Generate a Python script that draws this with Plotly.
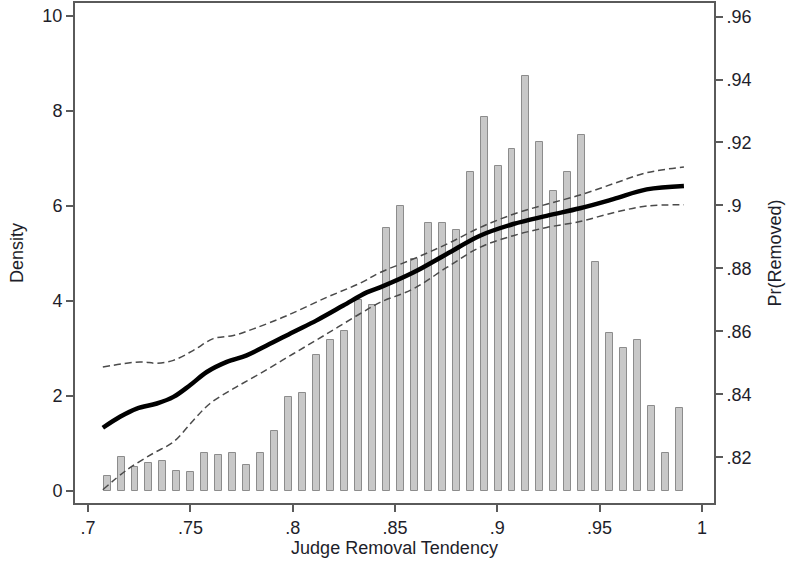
import plotly.graph_objects as go

# Histogram of judge removal tendency (density), 42 bins
bin_centers_first = 0.70928
bin_width = 0.006824
density = [0.31, 0.70, 0.49, 0.59, 0.63, 0.42, 0.39, 0.79, 0.75, 0.79, 0.55, 0.79,
           1.26, 1.98, 2.05, 2.86, 3.17, 3.37, 4.02, 3.91, 5.53, 6.00, 4.87, 5.63,
           5.63, 5.48, 6.71, 7.87, 6.84, 7.19, 8.74, 7.35, 6.31, 6.71, 7.49, 4.82,
           3.31, 3.01, 3.17, 1.79, 0.80, 1.75]
bin_x = [round(bin_centers_first + i * bin_width, 5) for i in range(len(density))]

# Local polynomial fit of Pr(Removed) and its confidence band
fit_x = [0.7072, 0.7156, 0.7238, 0.7336, 0.7417, 0.7498, 0.7580, 0.7678, 0.7775,
         0.7873, 0.8003, 0.8117, 0.8247, 0.8362, 0.8427, 0.8589, 0.8753, 0.8915,
         0.9078, 0.9241, 0.9404, 0.9567, 0.9730, 0.9912]
fit_y = [0.8294, 0.8329, 0.8355, 0.8371, 0.8392, 0.8429, 0.8471, 0.8503, 0.8524,
         0.8555, 0.8598, 0.8635, 0.8682, 0.8724, 0.8740, 0.8787, 0.8846, 0.8904,
         0.8941, 0.8967, 0.8991, 0.9020, 0.9051, 0.9062]

ci_hi_x = [0.7072, 0.7254, 0.7336, 0.7417, 0.7515, 0.7612, 0.7710, 0.7808, 0.7971,
           0.8166, 0.8329, 0.8427, 0.8589, 0.8753, 0.8915, 0.9078, 0.9241, 0.9404,
           0.9567, 0.9730, 0.9912]
ci_hi_y = [0.8487, 0.8503, 0.8499, 0.8508, 0.8540, 0.8577, 0.8587, 0.8608, 0.8650,
           0.8708, 0.8753, 0.8787, 0.8830, 0.8877, 0.8930, 0.8972, 0.9004, 0.9033,
           0.9069, 0.9104, 0.9122]

ci_lo_x = [0.7072, 0.7189, 0.7319, 0.7417, 0.7515, 0.7596, 0.7710, 0.7840, 0.8003,
           0.8166, 0.8329, 0.8427, 0.8589, 0.8753, 0.8915, 0.9078, 0.9241, 0.9404,
           0.9567, 0.9730, 0.9912]
ci_lo_y = [0.8097, 0.8160, 0.8213, 0.8249, 0.8318, 0.8371, 0.8418, 0.8466, 0.8529,
           0.8592, 0.8656, 0.8692, 0.8735, 0.8803, 0.8867, 0.8904, 0.8930, 0.8949,
           0.8977, 0.8998, 0.9002]

x_ticks = [0.7, 0.75, 0.8, 0.85, 0.9, 0.95, 1.0]
x_tick_labels = [".7", ".75", ".8", ".85", ".9", ".95", "1"]
y_ticks = [0, 2, 4, 6, 8, 10]
y2_ticks = [0.82, 0.84, 0.86, 0.88, 0.90, 0.92, 0.94, 0.96]
y2_tick_labels = [".82", ".84", ".86", ".88", ".9", ".92", ".94", ".96"]

FONT = "Liberation Sans, Arial, sans-serif"
TXT = "#1e1e2a"
AX = "#5a5a5a"
FS = 18

fig = go.Figure()
fig.add_trace(go.Bar(
    x=bin_x, y=density, width=0.0034,
    marker=dict(color="#c8c8c8", line=dict(color="#8c8c8c", width=1)),
    yaxis="y", showlegend=False,
))
fig.add_trace(go.Scatter(
    x=ci_hi_x, y=ci_hi_y, mode="lines", yaxis="y2",
    line=dict(color="#4a4a4a", width=1.5, dash="7px,4px", shape="spline"),
    showlegend=False,
))
fig.add_trace(go.Scatter(
    x=ci_lo_x, y=ci_lo_y, mode="lines", yaxis="y2",
    line=dict(color="#4a4a4a", width=1.5, dash="7px,4px", shape="spline"),
    showlegend=False,
))
fig.add_trace(go.Scatter(
    x=fit_x, y=fit_y, mode="lines", yaxis="y2",
    line=dict(color="#000000", width=4.5, shape="spline"),
    showlegend=False,
))

fig.update_layout(
    width=788, height=564,
    margin=dict(l=75, r=74, t=3, b=61),
    paper_bgcolor="white", plot_bgcolor="white",
    font=dict(family=FONT, size=FS, color=TXT),
    bargap=0,
    xaxis=dict(
        range=[0.6936, 1.0059], tickvals=x_ticks, ticktext=x_tick_labels,
        showgrid=False, zeroline=False, showline=True, mirror=True,
        linecolor=AX, linewidth=2, ticks="outside", ticklen=7, tickwidth=1.5,
        tickcolor=AX, tickfont=dict(size=FS, color=TXT), automargin=False,
        title=dict(text="Judge Removal Tendency", font=dict(size=FS, color=TXT), standoff=2),
    ),
    yaxis=dict(
        range=[-0.26, 10.27], tickvals=y_ticks,
        showgrid=False, zeroline=False, showline=True,
        linecolor=AX, linewidth=2, ticks="outside", ticklen=7, tickwidth=1.5,
        tickcolor=AX, tickfont=dict(size=FS, color=TXT), automargin=False,
        title=dict(text="Density", font=dict(size=FS, color=TXT), standoff=14),
    ),
    yaxis2=dict(
        range=[0.8055, 0.9643], tickvals=y2_ticks, ticktext=y2_tick_labels,
        overlaying="y", side="right",
        showgrid=False, zeroline=False, showline=True,
        linecolor=AX, linewidth=2, ticks="outside", ticklen=7, tickwidth=1.5,
        tickcolor=AX, tickfont=dict(size=FS, color=TXT), automargin=False,
        title=dict(text="Pr(Removed)", font=dict(size=FS, color=TXT), standoff=18),
    ),
)

fig.write_html("out.html", config={"displayModeBar": False},
               post_script="document.body.style.margin='0';")
